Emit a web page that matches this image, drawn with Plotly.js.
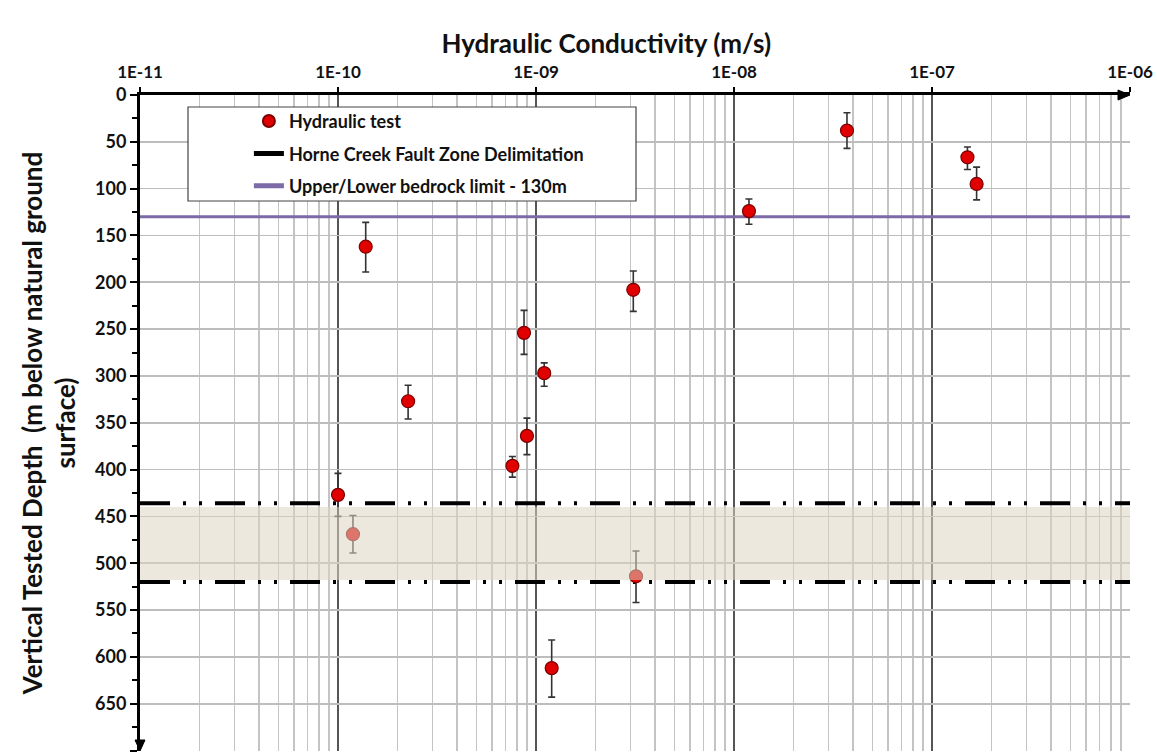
<!DOCTYPE html>
<html><head><meta charset="utf-8">
<script src="https://cdn.plot.ly/plotly-3.0.1.min.js"></script>
<style>html,body{margin:0;padding:0;background:#fff}#chart{width:1157px;height:755px}</style>
</head><body><div id="chart"></div>
<script>
// Hydraulic test results
const conductivity = [1.38e-10, 2.26e-10, 8.7e-10, 1.10e-9, 9.0e-10, 3.1e-9, 1.19e-8, 3.72e-8, 1.51e-7, 1.68e-7, 1.0e-10, 1.19e-10, 7.6e-10, 1.2e-9, 3.2e-9];
const depth        = [162, 327, 254, 297, 364, 208, 124, 38, 66.5, 95, 427, 469, 396, 612, 514];
const errShallow   = [26, 17, 24, 11, 19, 20, 13, 19, 11, 18, 23, 20, 10, 30, 27];
const errDeep      = [27, 19, 23, 14, 20, 23, 14, 19, 13, 17, 23, 20, 12, 31, 28];

// Reference lines
const bedrockLimit = 130;
const faultLimits = [436, 520];
const faultBand = [440, 518];
const xExtent = [1e-11, 1e-6];

// Axes
const xTickVals = [1e-11, 1e-10, 1e-9, 1e-8, 1e-7, 1e-6];
const xTickText = ['1E-11', '1E-10', '1E-09', '1E-08', '1E-07', '1E-06'];
const yTickVals = [0, 50, 100, 150, 200, 250, 300, 350, 400, 450, 500, 550, 600, 650, 700];

const xMinorVals = [];
for (let i = 0; i < xTickVals.length - 1; i++) {
  for (let m = 2; m <= 9; m++) xMinorVals.push(m * xTickVals[i]);
}

const FONT = 'Lato, "Open Sans", sans-serif';

const traces = [
  {
    type: 'scatter', mode: 'lines', name: 'Upper/Lower bedrock limit - 130m', legendgroup: 'c', legendrank: 3,
    x: xExtent, y: [bedrockLimit, bedrockLimit],
    line: {color: '#7d6ba8', width: 3}
  },
  {
    type: 'scatter', mode: 'lines', name: 'Horne Creek Fault Zone Delimitation', legendgroup: 'b', legendrank: 2,
    x: [xExtent[0], xExtent[1], null, xExtent[0], xExtent[1]],
    y: [faultLimits[0], faultLimits[0], null, faultLimits[1], faultLimits[1]],
    line: {color: '#000', width: 4, dash: '30px,13px,3px,13px,3px,13px'}
  },
  {
    type: 'scatter', mode: 'markers', name: 'Hydraulic test', legendgroup: 'a', legendrank: 1,
    x: conductivity, y: depth,
    marker: {color: '#e00000', size: 13, line: {color: '#7a0000', width: 1.2}},
    error_y: {type: 'data', symmetric: false, array: errDeep, arrayminus: errShallow,
              color: '#333', thickness: 1.6, width: 3.5},
    cliponaxis: false
  }
];

const layout = {
  width: 1157, height: 755,
  paper_bgcolor: '#fff', plot_bgcolor: '#fff',
  margin: {l: 140, r: 27, t: 95, b: 4},
  font: {family: FONT, color: '#111'},
  showlegend: true,
  title: {
    text: 'Hydraulic Conductivity (m/s)',
    font: {family: FONT, size: 26, weight: 700, color: '#111'},
    xref: 'container', yref: 'container', x: 0.524, xanchor: 'center', y: 1 - 44/755, yanchor: 'middle'
  },
  legend: {
    x: 0.11, y: 0.988, xanchor: 'left', yanchor: 'top',
    bgcolor: 'rgba(0,0,0,0)', borderwidth: 0,
    font: {family: FONT, size: 18, weight: 700, color: '#111'},
    traceorder: 'grouped', tracegroupgap: 6, itemsizing: 'constant'
  },
  xaxis: {
    type: 'log', side: 'top', range: [-11, -6],
    tickmode: 'array', tickvals: xTickVals, ticktext: xTickText,
    tickfont: {family: FONT, size: 17, weight: 700, color: '#111'},
    ticks: 'outside', ticklen: 5, tickwidth: 2, tickcolor: '#000', ticklabelstandoff: 2,
    showgrid: true, gridcolor: '#555', gridwidth: 2,
    minor: {tickmode: 'array', tickvals: xMinorVals, showgrid: true, gridcolor: '#c4c4c4', gridwidth: 1.6, ticks: ''},
    showline: true, linecolor: '#000', linewidth: 3, zeroline: false,
    fixedrange: true
  },
  yaxis: {
    range: [700.5, 0], tickmode: 'array', tickvals: yTickVals,
    tickfont: {family: FONT, size: 18, weight: 700, color: '#111'},
    ticks: 'outside', ticklen: 7, tickwidth: 2, tickcolor: '#000', ticklabelstandoff: 0,
    showgrid: true, gridcolor: '#bdbdbd', gridwidth: 1.6,
    minor: {dtick: 25, ticks: 'outside', ticklen: 5, tickwidth: 2, tickcolor: '#000', showgrid: false},
    showline: true, linecolor: '#000', linewidth: 3, zeroline: false,
    title: {text: 'Vertical Tested Depth  (m below natural ground<br>surface)',
            font: {family: FONT, size: 26, weight: 700, color: '#111'}, standoff: 12},
    fixedrange: true
  },
  shapes: [
    {type: 'rect', xref: 'paper', yref: 'y', x0: 0, x1: 1, y0: faultBand[0], y1: faultBand[1],
     fillcolor: '#ddd5c2', opacity: 0.55, line: {width: 0}, layer: 'above'},
    // legend box
    {type: 'rect', xref: 'paper', yref: 'paper', x0: 48/990, x1: 496/990, y0: (751-201)/656, y1: (751-107)/656,
     fillcolor: '#fff', line: {color: '#444', width: 1.2}, layer: 'above'},
    // arrow heads
    {type: 'path', xref: 'paper', yref: 'paper', xsizemode: 'pixel', ysizemode: 'pixel',
     xanchor: 1, yanchor: 1, path: 'M -12 -5 L 0 0 L -12 5 Z', fillcolor: '#000', line: {color: '#000', width: 1}, layer: 'above'},
    {type: 'path', xref: 'paper', yref: 'paper', xsizemode: 'pixel', ysizemode: 'pixel',
     xanchor: 0, yanchor: 0, path: 'M -5 11 L 0 0 L 5 11 Z', fillcolor: '#000', line: {color: '#000', width: 1}, layer: 'above'}
  ]
};

Plotly.newPlot('chart', traces, layout, {displayModeBar: false, staticPlot: true});
</script>
</body></html>
